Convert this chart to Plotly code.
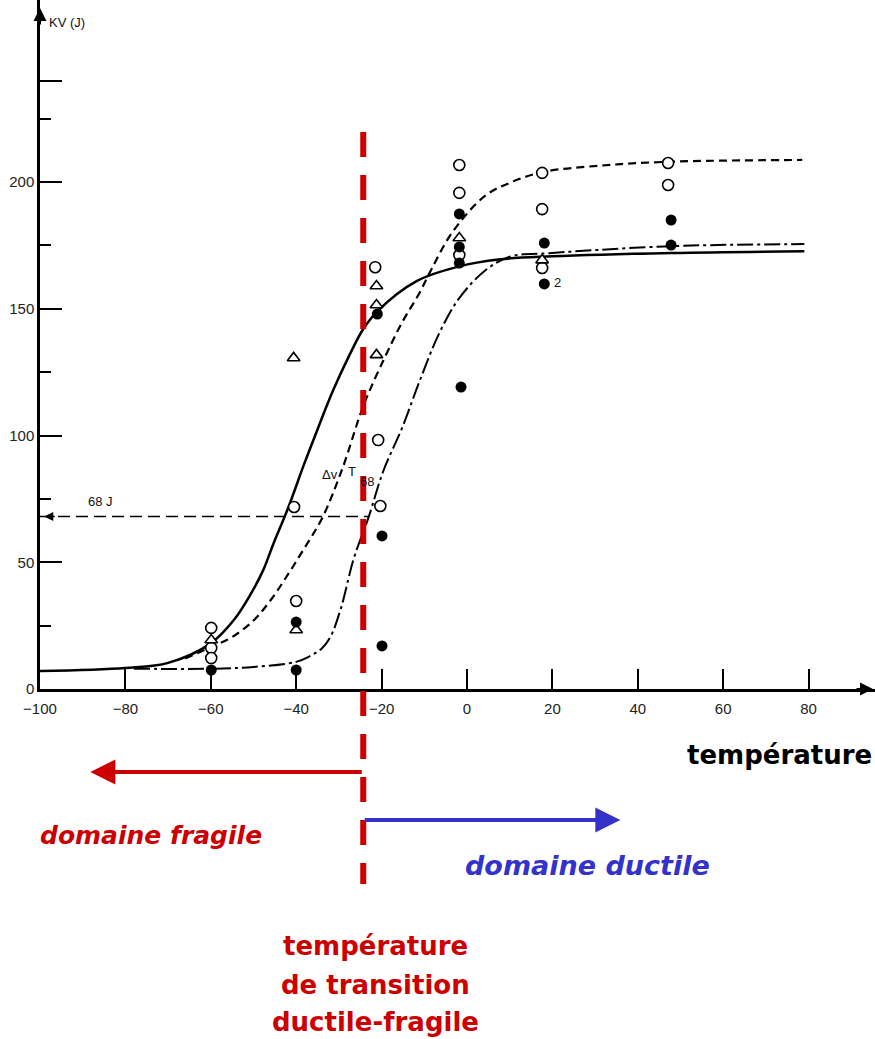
import plotly.graph_objects as go

# --- data (temperature in °C, KV in J) ---
open_x = [-59.9, -59.9, -59.9, -40.0, -40.5, -21.5, -20.8, -20.3, -1.8, -1.8, -1.8, 17.6, 17.6, 17.6, 47.1, 47.1]
open_y = [24.1, 16.2, 12.2, 34.7, 71.8, 166.4, 98.2, 72.2, 206.7, 195.7, 171.2, 203.6, 189.3, 166.1, 207.5, 198.8]

full_x = [-59.9, -40.0, -40.0, -19.9, -19.9, -21.0, -1.4, -1.8, -1.8, -1.8, 18.1, 18.1, 47.8, 47.8]
full_y = [7.5, 26.4, 7.5, 17.0, 60.4, 147.9, 119.1, 187.4, 174.4, 168.0, 175.9, 159.8, 185.0, 175.1]

tri_x = [-59.9, -40.0, -40.6, -21.2, -21.2, -21.2, -1.8, 17.6]
tri_y = [19.3, 23.3, 130.6, 159.0, 151.5, 131.8, 177.9, 169.2]

solid_x = [-100, -80, -70, -60, -54.7, -50.8, -47.7, -45.4, -41.8, -38.3, -35.1, -31.3, -27.3, -24.3, -21, -11.7, -2.3, 7.8, 20, 48, 79]
solid_y = [7.1, 8.3, 10.3, 18, 27, 37, 47, 57, 71.8, 88, 102, 118, 132.5, 142, 149, 161, 166.5, 169.5, 170.7, 172, 172.7]

dash_x = [-66, -60, -55, -50, -46, -42, -38.3, -33.9, -29.3, -24.2, -19.2, -15.2, -11.2, -8.2, -3.5, 4.2, 10.5, 18, 31.6, 47.3, 78.5]
dash_y = [12, 16.5, 20.5, 27, 35, 45, 55, 67.5, 86.4, 112, 131, 144.6, 156, 166, 180, 194.5, 200, 204, 206.5, 208, 208.7]

dashdot_x = [-78, -60, -50, -40, -37, -34, -32, -29.5, -26.6, -23.1, -19.6, -15.2, -11.2, -6.6, -1.9, 4.2, 10, 20, 48, 79]
dashdot_y = [8, 8, 8.7, 10.7, 12.8, 16, 20.5, 32, 51, 67.5, 86, 103, 121, 140, 154, 165, 170.5, 172, 174.7, 175.5]

ref_energy = 68          # J
ref_end_x = -23.1        # where the 68 J line stops
transition_temp = -24.3  # ductile-brittle transition

x_ticks = [-100, -80, -60, -40, -20, 0, 20, 40, 60, 80]
y_ticks = [0, 50, 100, 150, 200, 240]
y_ticktext = ["0", "50", "100", "150", "200", ""]
y_minor = [25, 75, 125, 175, 225]

RED = "#cc0000"
BLUE = "#3333cc"
W, H = 875, 1039
PL, PR, PT, PB = 40, 875, 0, 689   # plot area, pixels


def paper(px, py):
    # pixel position -> paper coordinates
    return (px - PL) / (PR - PL), (PB - py) / (PB - PT)


def label(px, py, text, size, color, **kw):
    x, y = paper(px, py)
    return dict(x=x, y=y, xref="paper", yref="paper", text=text, showarrow=False,
                xanchor=kw.get("xanchor", "center"), yanchor="middle",
                font=dict(family=kw.get("family", "DejaVu Sans"), size=size, color=color))


fig = go.Figure()

fig.add_trace(go.Scatter(x=[-100, ref_end_x], y=[ref_energy, ref_energy], mode="lines",
                         line=dict(color="black", width=1.5, dash="12px,6px")))
fig.add_trace(go.Scatter(x=solid_x, y=solid_y, mode="lines", line_shape="spline",
                         line=dict(color="black", width=2.5)))
fig.add_trace(go.Scatter(x=dash_x, y=dash_y, mode="lines", line_shape="spline",
                         line=dict(color="black", width=2.2, dash="8px,5px")))
fig.add_trace(go.Scatter(x=dashdot_x, y=dashdot_y, mode="lines", line_shape="spline",
                         line=dict(color="black", width=2, dash="16px,4px,3px,4px")))

fig.add_trace(go.Scatter(x=open_x, y=open_y, mode="markers",
                         marker=dict(symbol="circle", size=11, color="white",
                                     line=dict(color="black", width=1.6))))
fig.add_trace(go.Scatter(x=tri_x, y=tri_y, mode="markers",
                         marker=dict(symbol="triangle-up", size=11, color="white",
                                     line=dict(color="black", width=1.6))))
fig.add_trace(go.Scatter(x=full_x, y=full_y, mode="markers",
                         marker=dict(symbol="circle", size=11, color="black")))

# transition temperature, dashed red, running below the axis
fig.add_shape(type="line", xref="x", yref="paper", x0=transition_temp, x1=transition_temp,
              y0=paper(0, 132)[1], y1=paper(0, 884)[1],
              line=dict(color=RED, width=6, dash="25px,18px"), layer="above")

ann = []
# axis arrows
ax_tip = paper(873, 689)
ann.append(dict(x=ax_tip[0], y=ax_tip[1], xref="paper", yref="paper", ax=-18, ay=0,
                showarrow=True, arrowhead=2, arrowsize=1.3, arrowwidth=2,
                arrowcolor="black", text=""))
ay_tip = paper(40, 8)
ann.append(dict(x=ay_tip[0], y=ay_tip[1], xref="paper", yref="paper", ax=0, ay=18,
                showarrow=True, arrowhead=2, arrowsize=1.3, arrowwidth=2,
                arrowcolor="black", text=""))
# arrow at the left end of the 68 J line
ann.append(dict(x=-99, y=ref_energy, xref="x", yref="y", ax=12, ay=0, showarrow=True,
                arrowhead=2, arrowsize=1.2, arrowwidth=1.5, arrowcolor="black", text=""))

small = dict(family="Liberation Sans, Arial", size=13, color="#111")
ann.append(label(47, 23, "KV (J)", 13, "#111", xanchor="left", family="Liberation Sans, Arial"))
ann.append(dict(x=-85.9, y=73.8, text="68 J", showarrow=False, font=small))
ann.append(dict(x=-32.2, y=84.8, text="Δv", showarrow=False, font=small))
ann.append(dict(x=-26.9, y=85.8, text="T", showarrow=False, font=small))
ann.append(dict(x=-23.4, y=82, text="68", showarrow=False, font=small))
ann.append(dict(x=20.0, y=160.2, text="2", showarrow=False, xanchor="left", font=small))

# domain arrows under the chart
ann.append(dict(x=-88.2, y=paper(0, 772)[1], xref="x", yref="paper",
                ax=transition_temp, ay=0, axref="x", showarrow=True, text="",
                arrowhead=2, arrowsize=1.25, arrowwidth=4, arrowcolor=RED))
ann.append(dict(x=35.9, y=paper(0, 820)[1], xref="x", yref="paper",
                ax=transition_temp, ay=0, axref="x", showarrow=True, text="",
                arrowhead=2, arrowsize=1.25, arrowwidth=4, arrowcolor=BLUE))

ann.append(label(779, 755, "<b>température</b>", 26, "black"))
ann.append(label(151, 835, "<b><i>domaine fragile</i></b>", 25, RED))
ann.append(label(587, 866, "<b><i>domaine ductile</i></b>", 27, BLUE))
ann.append(label(375, 946, "<b>température</b>", 26, RED))
ann.append(label(375, 985, "<b>de transition</b>", 26, RED))
ann.append(label(375, 1022, "<b>ductile-fragile</b>", 26, RED))

tickfont = dict(family="Liberation Sans, Arial", size=15, color="#222")
fig.update_layout(
    width=W, height=H, autosize=False,
    margin=dict(l=PL, r=W - PR, t=PT, b=H - PB, pad=0),
    paper_bgcolor="white", plot_bgcolor="white",
    showlegend=False, annotations=ann,
    xaxis=dict(range=[-100, 95.55], tickvals=x_ticks, ticks="inside", ticklen=20,
               tickwidth=1.5, tickcolor="black", showline=True, linewidth=2.5,
               linecolor="black", showgrid=False, zeroline=False, automargin=False,
               ticklabelstandoff=4, tickfont=tickfont),
    yaxis=dict(range=[0, (PB - PT) / 2.535], tickvals=y_ticks, ticktext=y_ticktext,
               ticks="inside", ticklen=22, tickwidth=1.5, tickcolor="black",
               showline=True, linewidth=2.5, linecolor="black", showgrid=False,
               zeroline=False, automargin=False,
               minor=dict(tickvals=y_minor, ticks="inside", ticklen=11, tickwidth=1.5,
                          tickcolor="black"),
               tickfont=tickfont),
)

# the page's default 8px body margin would push the figure off the window
fig.write_html("out.html", config={"displayModeBar": False},
               post_script="document.body.style.margin = '0px';")
